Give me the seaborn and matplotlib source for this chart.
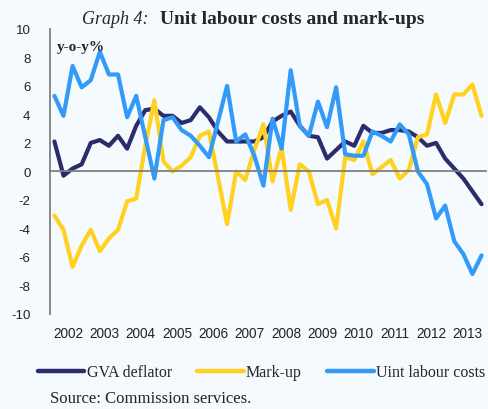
import matplotlib
matplotlib.use("Agg")
import matplotlib.pyplot as plt
import seaborn as sns
import numpy as np
import pandas as pd

years = [str(y) for y in range(2002, 2014)]

gva_deflator = [2.1, -0.3, 0.2, 0.5, 2.0, 2.2, 1.8, 2.5, 1.6, 3.2, 4.3, 4.4,
                3.9, 3.9, 3.4, 3.6, 4.5, 3.8, 2.8, 2.1, 2.1, 2.1, 2.1, 2.4,
                3.5, 3.9, 4.2, 3.2, 2.5, 2.4, 0.9, 1.5, 2.1, 1.8, 3.2, 2.7,
                2.7, 2.9, 2.9, 2.8, 2.4, 1.8, 2.0, 0.9, 0.2, -0.5, -1.4, -2.3]

mark_up = [-3.1, -4.1, -6.7, -5.2, -4.1, -5.6, -4.7, -4.1, -2.1, -1.9, 1.8, 5.0,
           0.7, 0.0, 0.4, 1.0, 2.5, 2.8, -0.4, -3.7, 0.0, -0.6, 1.5, 3.3,
           -0.7, 1.7, -2.7, 0.5, 0.0, -2.3, -2.0, -4.0, 1.0, 0.8, 2.1, -0.2,
           0.3, 0.8, -0.5, 0.1, 2.4, 2.6, 5.4, 3.4, 5.4, 5.4, 6.1, 3.9]

ulc = [5.3, 3.9, 7.4, 5.9, 6.4, 8.4, 6.8, 6.8, 3.8, 5.3, 2.4, -0.5,
       3.6, 3.8, 2.9, 2.5, 1.8, 1.0, 3.5, 6.0, 2.1, 2.6, 1.1, -1.0,
       3.7, 1.6, 7.1, 3.2, 2.5, 4.9, 3.1, 5.9, 1.2, 1.1, 1.1, 2.8,
       2.5, 2.1, 3.3, 2.6, 0.0, -0.9, -3.3, -2.4, -4.9, -5.8, -7.2, -5.9]

series_names = ["GVA deflator", "Mark-up", "Uint labour costs"]
colors = {"GVA deflator": "#2b2d6b", "Mark-up": "#ffd21f", "Uint labour costs": "#339af7"}

n = len(ulc)
df = pd.DataFrame({
    "q": np.tile(np.arange(n), 3),
    "value": gva_deflator + mark_up + ulc,
    "series": np.repeat(series_names, n),
})

bg = "#f5fafe"
sns.set_style("white")
plt.rcParams["font.family"] = ["Liberation Sans", "DejaVu Sans"]
plt.rcParams["axes.unicode_minus"] = False

fig = plt.figure(figsize=(4.89, 4.10), dpi=100, facecolor=bg)
ax = fig.add_axes([0.102, 0.232, 0.892, 0.695], facecolor=bg)

sns.lineplot(data=df, x="q", y="value", hue="series", palette=colors,
             hue_order=series_names, linewidth=3, ax=ax, legend=True)

ax.set_xlim(-0.5, n - 0.5)
ax.set_ylim(-10, 10)
ax.set_yticks(range(-10, 11, 2))
ax.set_xlabel("")
ax.set_ylabel("")

for s in ["top", "right"]:
    ax.spines[s].set_visible(False)
ax.spines["left"].set_color("#808080")
ax.spines["left"].set_linewidth(1.3)
ax.spines["bottom"].set_position(("data", 0))
ax.spines["bottom"].set_color("#808080")
ax.spines["bottom"].set_linewidth(1.3)

ax.set_xticks(np.arange(-0.5, n, 4))
ax.tick_params(axis="x", direction="in", length=4, color="#808080", labelbottom=False)
ax.tick_params(axis="y", direction="in", length=4, color="#808080",
               labelsize=9.5, labelcolor="#222222", pad=14)

sec = ax.secondary_xaxis("bottom")
sec.spines["bottom"].set_visible(False)
sec.set_xticks(np.arange(1.5, n, 4))
sec.set_xticklabels(years)
sec.tick_params(length=0, labelsize=9.8, labelcolor="#222222", pad=9)

ax.text(0.017, 0.96, "y-o-y%", transform=ax.transAxes, ha="left", va="top",
        fontsize=11, fontweight="bold", family="Liberation Serif", color="#222222")

fig.text(0.168, 0.953, "Graph 4:", ha="left", va="center", fontsize=13,
         style="italic", family="Liberation Serif")
fig.text(0.327, 0.953, "Unit labour costs and mark-ups", ha="left", va="center",
         fontsize=14, fontweight="bold", family="Liberation Serif")

handles, labels = ax.get_legend_handles_labels()
leg = ax.legend(handles, labels, loc="center", bbox_to_anchor=(0.535, 0.09),
                bbox_transform=fig.transFigure, ncol=3, frameon=False,
                handlelength=2.9, handletextpad=0.15, columnspacing=1.6,
                prop={"family": "Liberation Serif", "size": 11.5})
for line in leg.get_lines():
    line.set_linewidth(3.2)

fig.text(0.103, 0.028, "Source: Commission services.", ha="left", va="center",
         fontsize=12, family="Liberation Serif", color="#222222")

fig.savefig("out.png", dpi=100, facecolor=bg)
